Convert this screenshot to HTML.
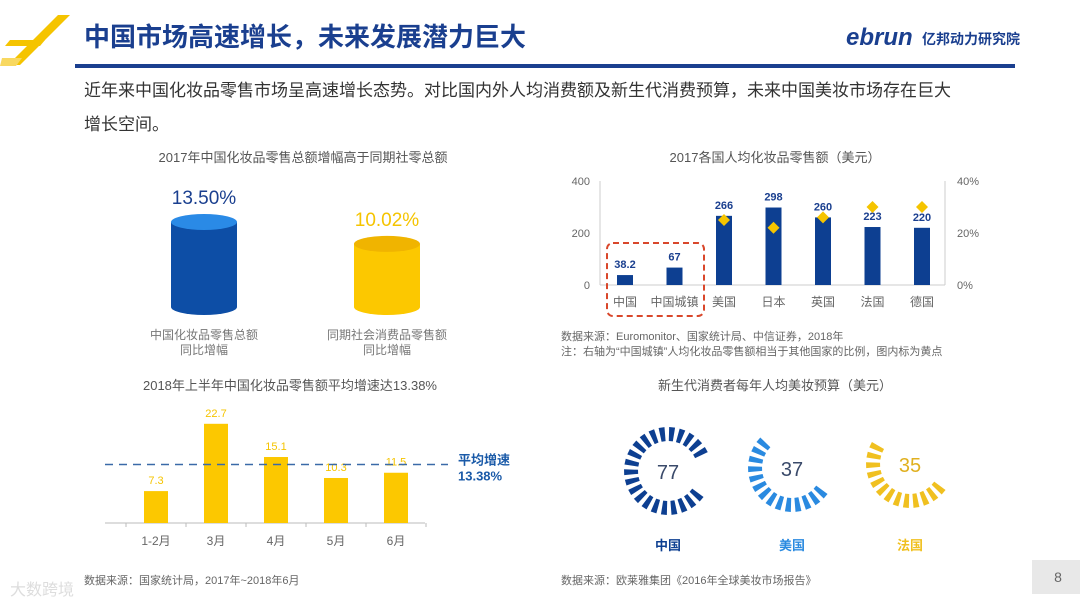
<!DOCTYPE html>
<html><head><meta charset="utf-8">
<style>
body{margin:0;width:1080px;height:608px;background:#fff;overflow:hidden;font-family:"Liberation Sans","Noto Sans CJK SC",sans-serif;}
svg{position:absolute;left:0;top:0}
</style></head>
<body>
<svg width="1080" height="608" viewBox="0 0 1080 608" font-family="Liberation Sans, Noto Sans CJK SC, sans-serif">
<!-- header -->
<g>
<polygon points="58,15 70,15 20,65 8,65" fill="#f5c400"/>
<polygon points="10,40 45,40 40,46 5,46" fill="#f5c400"/>
<polygon points="2,58 22,58 16,66 0,66" fill="#f8d860"/>
</g>
<text x="84" y="46" font-size="26" font-weight="bold" fill="#1a3f8f">中国市场高速增长，未来发展潜力巨大</text>
<text x="846" y="45" font-size="24" font-weight="bold" font-style="italic" fill="#1a3f8f">ebrun</text>
<text x="922" y="44" font-size="14" font-weight="bold" fill="#1a3f8f">亿邦动力研究院</text>
<rect x="75" y="64" width="940" height="4" fill="#1a3f8f"/>
<text x="84" y="96" font-size="17" fill="#333">近年来中国化妆品零售市场呈高速增长态势。对比国内外人均消费额及新生代消费预算，未来中国美妆市场存在巨大</text>
<text x="84" y="130" font-size="17" fill="#333">增长空间。</text>

<!-- top-left cylinders -->
<text x="303" y="162" font-size="13" fill="#555" text-anchor="middle">2017年中国化妆品零售总额增幅高于同期社零总额</text>
<g id="cyl"></g>

<!-- top-right bar chart -->
<text x="775" y="162" font-size="13" fill="#555" text-anchor="middle">2017各国人均化妆品零售额（美元）</text>
<g id="bars"></g>
<rect x="607" y="243" width="97" height="73" rx="6" fill="none" stroke="#d9472b" stroke-width="2" stroke-dasharray="6,4"/>
<text x="561" y="340" font-size="11" fill="#666">数据来源：Euromonitor、国家统计局、中信证券，2018年</text>
<text x="561" y="355" font-size="11" fill="#666">注：右轴为“中国城镇”人均化妆品零售额相当于其他国家的比例，图内标为黄点</text>

<!-- bottom-left -->
<text x="290" y="390" font-size="13" fill="#555" text-anchor="middle">2018年上半年中国化妆品零售额平均增速达13.38%</text>
<g id="months"></g>
<text x="84" y="584" font-size="11" fill="#666">数据来源：国家统计局，2017年~2018年6月</text>

<!-- bottom-right -->
<text x="775" y="390" font-size="13" fill="#555" text-anchor="middle">新生代消费者每年人均美妆预算（美元）</text>
<g id="rings"></g>
<text x="561" y="584" font-size="11" fill="#666">数据来源：欧莱雅集团《2016年全球美妆市场报告》</text>

<rect x="1032" y="560" width="48" height="34" fill="#e8e8e8"/>
<text x="1058" y="582" font-size="14" fill="#666" text-anchor="middle">8</text>
<text x="10" y="595" font-size="16" fill="#ddd">大数跨境</text>
</svg>
<script>
const NS="http://www.w3.org/2000/svg";
function mk(p,t,a,txt){const e=document.createElementNS(NS,t);for(const k in a)e.setAttribute(k,a[k]);if(txt!==undefined)e.textContent=txt;p.appendChild(e);return e;}

// cylinders
const cylValues=[13.50,10.02];
const cylLabels=["13.50%","10.02%"];
const cylCaps=[["中国化妆品零售总额","同比增幅"],["同期社会消费品零售额","同比增幅"]];
(function(){
 const g=document.getElementById('cyl');
 const cx=[204,387],base=307,scale=85/13.5,rx=33,ry=8;
 const body=["#0d4ea6","#fcc800"],top=["#2a8ae6","#f0b400"],lc=["#1a3f8f","#f5c400"];
 cylValues.forEach((v,i)=>{
  const yt=base-v*scale;
  const c=mk(g,'path',{d:`M${cx[i]-rx},${yt} L${cx[i]-rx},${base} A${rx},${ry} 0 0 0 ${cx[i]+rx},${base} L${cx[i]+rx},${yt} Z`,fill:body[i]});
  
  
  const t=mk(g,'ellipse',{cx:cx[i],cy:yt,rx:rx,ry:ry,fill:top[i]});
  
  
  const l=mk(g,'text',{x:cx[i],y:yt-18,'font-size':19,fill:lc[i],'text-anchor':'middle'},cylLabels[i]);
  
  
  cylCaps[i].forEach((s,j)=>{const e=mk(g,'text',{x:cx[i],y:339+j*15,'font-size':12,fill:'#777','text-anchor':'middle'},s);
   
   });
 });
})();

// country bar chart
const countries=["中国","中国城镇","美国","日本","英国","法国","德国"];
const spend=[38.2,67,266,298,260,223,220];
const ratio=[null,null,25,22,26,30,30];
const leftTicks=[0,200,400];
const rightTicks=["0%","20%","40%"];
(function(){
 const g=document.getElementById('bars');
 const x0=600,x1=945,y0=285,y1=181;
 const y=v=>y0-(y0-y1)*v/400, yr=p=>y0-(y0-y1)*p/40;
 const xc=i=>625+i*49.5;
 mk(g,'line',{x1:x0,y1:y1,x2:x0,y2:y0,stroke:'#ccc'});
 mk(g,'line',{x1:x1,y1:y1,x2:x1,y2:y0,stroke:'#ccc'});
 mk(g,'line',{x1:x0,y1:y0,x2:x1,y2:y0,stroke:'#ccc'});
 leftTicks.forEach((t,i)=>{const e=mk(g,'text',{x:590,y:y(t)+4,'font-size':11,fill:'#666','text-anchor':'end'},t);
  
  
  const r=mk(g,'text',{x:957,y:y(t)+4,'font-size':11,fill:'#666'},rightTicks[i]);
  
  });
 countries.forEach((c,i)=>{
  const b=mk(g,'rect',{x:xc(i)-8,y:y(spend[i]),width:16,height:y0-y(spend[i]),fill:'#0d3f91'});
  
  
  const l=mk(g,'text',{x:xc(i),y:y(spend[i])-7,'font-size':11,'font-weight':'bold',fill:'#1a3f8f','text-anchor':'middle'},spend[i]);
  
  
  const cl=mk(g,'text',{x:xc(i),y:306,'font-size':12,fill:'#666','text-anchor':'middle'},c);
  
  
  if(ratio[i]!==null){const yy=yr(ratio[i]);
   const d=mk(g,'polygon',{points:`${xc(i)},${yy-6} ${xc(i)+6},${yy} ${xc(i)},${yy+6} ${xc(i)-6},${yy}`,fill:'#f5c400'});
   
   }
 });
})();

// monthly chart
const months=["1-2月","3月","4月","5月","6月"];
const growth=[7.3,22.7,15.1,10.3,11.5];
const avgGrowth=13.38;
(function(){
 const g=document.getElementById('months');
 const base=523,sc=4.37,xc=i=>156+i*60;
 mk(g,'line',{x1:105,y1:base,x2:425,y2:base,stroke:'#bbb'});
 for(let i=0;i<=5;i++)mk(g,'line',{x1:126+i*60,y1:base,x2:126+i*60,y2:base+4,stroke:'#bbb'});
 growth.forEach((v,i)=>{
  const b=mk(g,'rect',{x:xc(i)-12,y:base-v*sc,width:24,height:v*sc,fill:'#fcc800'});
  
  
  const t=mk(g,'text',{x:xc(i),y:base-v*sc-7,'font-size':11,fill:'#f5c400','text-anchor':'middle'},v);
  
  
  const c=mk(g,'text',{x:xc(i),y:545,'font-size':12,fill:'#666','text-anchor':'middle'},months[i]);
  
  
 });
 const ya=base-avgGrowth*sc;
 const ln=mk(g,'line',{x1:105,y1:ya,x2:448,y2:ya,stroke:'#3a6aa8','stroke-width':1.5,'stroke-dasharray':'8,6'});
 
 
 const a=mk(g,'text',{x:458,y:ya,'font-size':13,'font-weight':'bold',fill:'#1a5aa8'},'平均增速');
 
 
 const b=mk(g,'text',{x:458,y:ya+16,'font-size':13,'font-weight':'bold',fill:'#1a5aa8'},avgGrowth+'%');
 
 
})();

// rings
const ringNames=["中国","美国","法国"];
const ringValues=[77,37,35];
(function(){
 const g=document.getElementById('rings');
 const cx=[668,792,910],cy=[471,468,464],col=["#0d3f91","#2a8ae0","#f0c020"],N=26,R=44,r=30;
 ringValues.forEach((v,k)=>{
  const cnt=Math.round(N*(0.25+v/130));
  const start=130*Math.PI/180, step=2*Math.PI/N;
  for(let s=0;s<cnt;s++){
   const m=start+s*step, a0=m-step*0.28, a1=m+step*0.28;
   const p=(ang,rad)=>[cx[k]+rad*Math.sin(ang),cy[k]-rad*Math.cos(ang)];
   const [ax,ay]=p(a0,r),[bx,by]=p(a0,R),[cx2,cy2]=p(a1,R),[dx,dy]=p(a1,r);
   const e=mk(g,'polygon',{points:`${ax},${ay} ${bx},${by} ${cx2},${cy2} ${dx},${dy}`,fill:col[k]});
   
   
  }
  const t=mk(g,'text',{x:cx[k],y:cy[k]+8,'font-size':20,fill:k==2?'#e0b020':'#3a4a6a','text-anchor':'middle'},v);
  
  
  const l=mk(g,'text',{x:cx[k],y:550,'font-size':13,'font-weight':'bold',fill:col[k],'text-anchor':'middle'},ringNames[k]);
  
  
 });
})();
</script>
</body></html>
